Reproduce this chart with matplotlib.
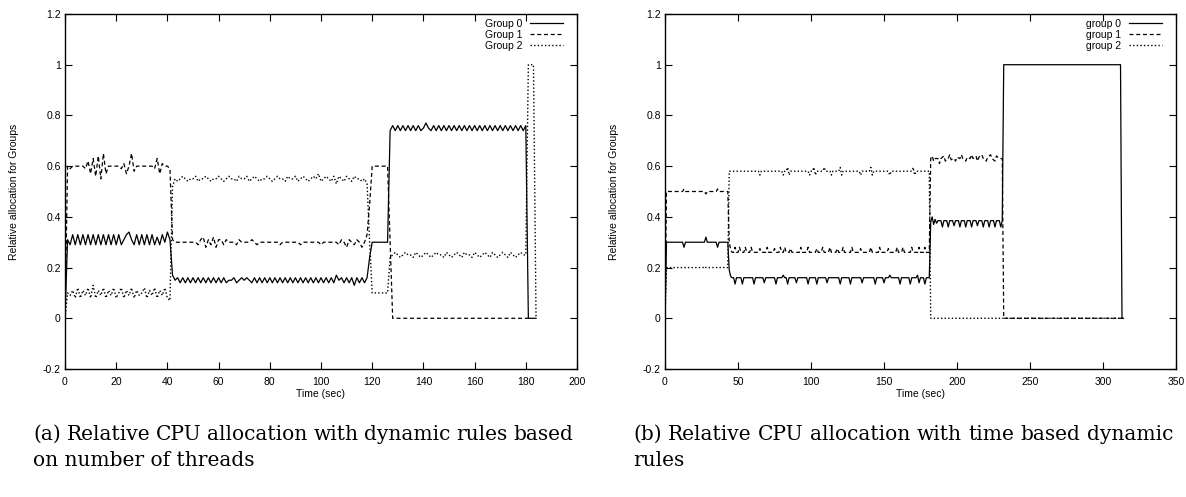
import matplotlib
matplotlib.use('Agg')
import matplotlib.pyplot as plt
import numpy as np

# --- data: (a) dynamic rules based on number of threads, one sample per second
g0_a = [
    0.00, 0.31, 0.29, 0.33, 0.29, 0.33, 0.29, 0.33, 0.29, 0.33,
    0.29, 0.33, 0.29, 0.33, 0.29, 0.33, 0.29, 0.33, 0.29, 0.33,
    0.29, 0.33, 0.29, 0.31, 0.33, 0.34, 0.31, 0.29, 0.33, 0.29,
    0.33, 0.29, 0.33, 0.29, 0.33, 0.29, 0.32, 0.29, 0.33, 0.30,
    0.34, 0.31, 0.17, 0.15, 0.16, 0.14, 0.16, 0.14, 0.16, 0.14,
    0.16, 0.14, 0.16, 0.14, 0.16, 0.14, 0.16, 0.14, 0.16, 0.14,
    0.16, 0.14, 0.16, 0.14, 0.15, 0.15, 0.16, 0.14, 0.15, 0.16,
    0.15, 0.16, 0.15, 0.14, 0.16, 0.14, 0.16, 0.14, 0.16, 0.14,
    0.16, 0.14, 0.16, 0.14, 0.16, 0.14, 0.16, 0.14, 0.16, 0.14,
    0.16, 0.14, 0.16, 0.14, 0.16, 0.14, 0.16, 0.14, 0.16, 0.14,
    0.16, 0.14, 0.16, 0.14, 0.16, 0.14, 0.17, 0.15, 0.16, 0.14,
    0.16, 0.14, 0.16, 0.13, 0.16, 0.14, 0.16, 0.14, 0.16, 0.24,
    0.30, 0.30, 0.30, 0.30, 0.30, 0.30, 0.30, 0.74, 0.76, 0.74,
    0.76, 0.74, 0.76, 0.74, 0.76, 0.74, 0.76, 0.74, 0.76, 0.74,
    0.75, 0.77, 0.75, 0.74, 0.76, 0.74, 0.76, 0.74, 0.76, 0.74,
    0.76, 0.74, 0.76, 0.74, 0.76, 0.74, 0.76, 0.74, 0.76, 0.74,
    0.76, 0.74, 0.76, 0.74, 0.76, 0.74, 0.76, 0.74, 0.76, 0.74,
    0.76, 0.74, 0.76, 0.74, 0.76, 0.74, 0.76, 0.74, 0.76, 0.74,
    0.76, 0.00, 0.00, 0.00, 0.00,
]
g1_a = [
    0.00, 0.60, 0.59, 0.60, 0.60, 0.60, 0.60, 0.60, 0.59, 0.62,
    0.57, 0.63, 0.56, 0.64, 0.55, 0.65, 0.57, 0.60, 0.60, 0.60,
    0.60, 0.60, 0.59, 0.61, 0.57, 0.60, 0.65, 0.58, 0.60, 0.60,
    0.60, 0.60, 0.60, 0.60, 0.60, 0.59, 0.63, 0.57, 0.61, 0.60,
    0.60, 0.59, 0.31, 0.30, 0.30, 0.30, 0.30, 0.30, 0.30, 0.30,
    0.30, 0.30, 0.29, 0.31, 0.32, 0.28, 0.31, 0.29, 0.32, 0.28,
    0.31, 0.31, 0.29, 0.31, 0.30, 0.30, 0.30, 0.29, 0.31, 0.30,
    0.30, 0.30, 0.30, 0.31, 0.30, 0.29, 0.30, 0.30, 0.30, 0.30,
    0.30, 0.30, 0.30, 0.30, 0.29, 0.30, 0.30, 0.30, 0.30, 0.30,
    0.30, 0.30, 0.29, 0.30, 0.30, 0.30, 0.30, 0.30, 0.30, 0.30,
    0.29, 0.30, 0.30, 0.30, 0.30, 0.30, 0.30, 0.29, 0.31, 0.30,
    0.28, 0.31, 0.30, 0.29, 0.31, 0.30, 0.28, 0.30, 0.33, 0.45,
    0.60, 0.60, 0.60, 0.60, 0.60, 0.60, 0.60, 0.30, 0.00, 0.00,
    0.00, 0.00, 0.00, 0.00, 0.00, 0.00, 0.00, 0.00, 0.00, 0.00,
    0.00, 0.00, 0.00, 0.00, 0.00, 0.00, 0.00, 0.00, 0.00, 0.00,
    0.00, 0.00, 0.00, 0.00, 0.00, 0.00, 0.00, 0.00, 0.00, 0.00,
    0.00, 0.00, 0.00, 0.00, 0.00, 0.00, 0.00, 0.00, 0.00, 0.00,
    0.00, 0.00, 0.00, 0.00, 0.00, 0.00, 0.00, 0.00, 0.00, 0.00,
    0.00, 0.00,
]
g2_a = [
    0.00, 0.10, 0.09, 0.11, 0.08, 0.12, 0.08, 0.11, 0.09, 0.12,
    0.08, 0.13, 0.08, 0.11, 0.09, 0.12, 0.08, 0.11, 0.09, 0.12,
    0.08, 0.10, 0.12, 0.08, 0.11, 0.09, 0.12, 0.08, 0.11, 0.09,
    0.10, 0.12, 0.08, 0.11, 0.09, 0.12, 0.08, 0.11, 0.09, 0.12,
    0.08, 0.07, 0.52, 0.55, 0.54, 0.55, 0.56, 0.55, 0.54, 0.55,
    0.55, 0.56, 0.54, 0.55, 0.55, 0.56, 0.55, 0.54, 0.55, 0.55,
    0.56, 0.55, 0.54, 0.55, 0.56, 0.55, 0.55, 0.54, 0.56, 0.55,
    0.55, 0.56, 0.54, 0.55, 0.56, 0.55, 0.54, 0.55, 0.55, 0.56,
    0.55, 0.54, 0.55, 0.56, 0.55, 0.55, 0.54, 0.56, 0.55, 0.55,
    0.56, 0.54, 0.55, 0.56, 0.55, 0.54, 0.55, 0.56, 0.55, 0.57,
    0.54, 0.55, 0.56, 0.55, 0.54, 0.56, 0.53, 0.56, 0.55, 0.54,
    0.56, 0.55, 0.54, 0.56, 0.55, 0.55, 0.54, 0.55, 0.53, 0.30,
    0.10, 0.10, 0.10, 0.10, 0.10, 0.10, 0.10, 0.24, 0.25, 0.26,
    0.25, 0.24, 0.25, 0.26, 0.25, 0.25, 0.24, 0.26, 0.25, 0.24,
    0.25, 0.26, 0.25, 0.24, 0.25, 0.26, 0.25, 0.25, 0.24, 0.26,
    0.25, 0.24, 0.25, 0.26, 0.25, 0.24, 0.26, 0.25, 0.25, 0.24,
    0.26, 0.25, 0.24, 0.25, 0.26, 0.25, 0.24, 0.26, 0.25, 0.24,
    0.25, 0.26, 0.25, 0.24, 0.26, 0.25, 0.24, 0.25, 0.26, 0.25,
    0.25, 1.00, 1.00, 1.00, 0.00,
]

# --- data: (b) time based dynamic rules, (time, value) vertices
g0_b = [
    (0, 0.00), (1, 0.30), (12, 0.30), (13, 0.28), (14, 0.30), (27, 0.30), (28, 0.32),
    (29, 0.30), (35, 0.30), (36, 0.28), (37, 0.30), (43, 0.30), (44, 0.19), (45, 0.165),
    (46, 0.16), (47, 0.16), (48, 0.135), (49, 0.16), (52, 0.16), (53, 0.135), (54, 0.16),
    (60, 0.16), (61, 0.135), (62, 0.16), (67, 0.16), (68, 0.14), (69, 0.16),
    (75, 0.16), (76, 0.135), (77, 0.16), (80, 0.16), (81, 0.17), (82, 0.16),
    (83, 0.16), (84, 0.135), (85, 0.16), (89, 0.16), (90, 0.14), (91, 0.16),
    (97, 0.16), (98, 0.135), (99, 0.16), (103, 0.16), (104, 0.135), (105, 0.16),
    (110, 0.16), (111, 0.14), (112, 0.16), (119, 0.16), (120, 0.135), (121, 0.16),
    (126, 0.16), (127, 0.135), (128, 0.16), (134, 0.16), (135, 0.14), (136, 0.16),
    (143, 0.16), (144, 0.135), (145, 0.16), (149, 0.16), (150, 0.14), (151, 0.16),
    (153, 0.16), (154, 0.17), (155, 0.16), (160, 0.16), (161, 0.135), (162, 0.16),
    (167, 0.16), (168, 0.135), (169, 0.16), (172, 0.16), (173, 0.17), (174, 0.14),
    (175, 0.16), (177, 0.16), (178, 0.135), (179, 0.16), (181, 0.16),
    (182, 0.38), (183, 0.40), (184, 0.37), (185, 0.39), (186, 0.375), (187, 0.385),
    (189, 0.385), (190, 0.36), (191, 0.385), (193, 0.385), (194, 0.36), (195, 0.385),
    (197, 0.385), (198, 0.365), (199, 0.385), (201, 0.385), (202, 0.36), (203, 0.385),
    (205, 0.385), (206, 0.36), (207, 0.385), (209, 0.385), (210, 0.36), (211, 0.385),
    (213, 0.385), (214, 0.365), (215, 0.385), (217, 0.385), (218, 0.36), (219, 0.385),
    (221, 0.385), (222, 0.36), (223, 0.385), (225, 0.385), (226, 0.36), (227, 0.385),
    (229, 0.385), (230, 0.36), (231, 0.385), (232, 1.00), (312, 1.00), (313, 0.00),
    (314, 0.00),
]
g1_b = [
    (0, 0.00), (1, 0.50), (12, 0.50), (13, 0.51), (14, 0.50), (27, 0.50), (28, 0.49),
    (29, 0.50), (35, 0.50), (36, 0.51), (37, 0.50), (43, 0.50), (44, 0.30), (45, 0.27),
    (46, 0.26), (47, 0.26), (48, 0.28), (49, 0.26), (50, 0.26), (51, 0.28), (52, 0.26),
    (54, 0.26), (55, 0.28), (56, 0.26), (58, 0.26), (59, 0.28), (60, 0.26),
    (64, 0.26), (65, 0.275), (66, 0.26), (69, 0.26), (70, 0.28), (71, 0.26),
    (74, 0.26), (75, 0.275), (76, 0.26), (78, 0.26), (79, 0.28), (80, 0.26),
    (81, 0.26), (82, 0.28), (83, 0.26), (85, 0.26), (86, 0.275), (87, 0.26),
    (92, 0.26), (93, 0.28), (94, 0.26), (97, 0.26), (98, 0.28), (99, 0.26),
    (103, 0.26), (104, 0.275), (105, 0.26), (107, 0.26), (108, 0.28), (109, 0.26),
    (112, 0.26), (113, 0.28), (114, 0.26), (117, 0.26), (118, 0.275), (119, 0.26),
    (121, 0.26), (122, 0.28), (123, 0.26), (127, 0.26), (128, 0.28), (129, 0.26),
    (133, 0.26), (134, 0.275), (135, 0.26), (140, 0.26), (141, 0.28), (142, 0.26),
    (146, 0.26), (147, 0.28), (148, 0.26), (152, 0.26), (153, 0.275), (154, 0.26),
    (158, 0.26), (159, 0.28), (160, 0.26), (162, 0.26), (163, 0.28), (164, 0.26),
    (168, 0.26), (169, 0.28), (170, 0.26), (173, 0.26), (174, 0.28), (175, 0.26),
    (177, 0.26), (178, 0.28), (179, 0.26), (181, 0.26),
    (182, 0.63), (183, 0.64), (184, 0.62), (185, 0.63), (187, 0.63), (188, 0.61),
    (189, 0.63), (191, 0.64), (192, 0.62), (194, 0.63), (195, 0.645), (196, 0.625),
    (198, 0.63), (199, 0.62), (200, 0.635), (202, 0.63), (203, 0.645), (204, 0.63),
    (206, 0.62), (207, 0.635), (209, 0.63), (210, 0.645), (211, 0.63), (213, 0.64),
    (214, 0.62), (215, 0.635), (217, 0.645), (218, 0.63), (220, 0.62), (221, 0.635),
    (223, 0.645), (224, 0.63), (226, 0.62), (227, 0.64), (229, 0.63), (231, 0.63),
    (232, 0.00), (314, 0.00),
]
g2_b = [
    (0, 0.00), (1, 0.20), (26, 0.20), (27, 0.205), (28, 0.20), (43, 0.20), (44, 0.58),
    (64, 0.58), (65, 0.565), (66, 0.58), (80, 0.58), (81, 0.565), (82, 0.58),
    (83, 0.58), (84, 0.595), (85, 0.565), (86, 0.58), (98, 0.58), (99, 0.565),
    (100, 0.58), (101, 0.58), (102, 0.595), (103, 0.565), (104, 0.58),
    (108, 0.58), (109, 0.595), (110, 0.58), (113, 0.58), (114, 0.565), (115, 0.58),
    (119, 0.58), (120, 0.595), (121, 0.565), (122, 0.58), (133, 0.58), (134, 0.565),
    (135, 0.58), (140, 0.58), (141, 0.595), (142, 0.565), (143, 0.58),
    (153, 0.58), (154, 0.565), (155, 0.58), (169, 0.58), (170, 0.595), (171, 0.565),
    (172, 0.58), (181, 0.58), (182, 0.00), (314, 0.00),
]

labels_a = ['Group 0', 'Group 1', 'Group 2']
labels_b = ['group 0', 'group 1', 'group 2']
xticks_a = [0, 20, 40, 60, 80, 100, 120, 140, 160, 180, 200]
xticks_b = [0, 50, 100, 150, 200, 250, 300, 350]
yticks = [-0.2, 0, 0.2, 0.4, 0.6, 0.8, 1, 1.2]
ytick_labels = ['-0.2', '0', '0.2', '0.4', '0.6', '0.8', '1', '1.2']
caption_a = ['(a) Relative CPU allocation with dynamic rules based', 'on number of threads']
caption_b = ['(b) Relative CPU allocation with time based dynamic', 'rules']

W, H = 1186, 497
fig = plt.figure(figsize=(W / 100, H / 100), dpi=100)
sans = 'Liberation Sans'
serif = 'DejaVu Serif'

styles = [dict(ls='-', lw=0.9), dict(ls=(0, (3.2, 2.2)), lw=0.9), dict(ls=(0, (1, 1.6)), lw=1.0)]


def make_axes(l, t, r, b):
    return fig.add_axes([l / W, 1 - b / H, (r - l) / W, (b - t) / H])


def style_axes(ax, xmax, xticks, labels):
    ax.set_xlim(0, xmax)
    ax.set_ylim(-0.2, 1.2)
    ax.set_xticks(xticks)
    ax.set_xticklabels([str(x) for x in xticks], fontfamily=sans, fontsize=7.5)
    ax.set_yticks(yticks)
    ax.set_yticklabels(ytick_labels, fontfamily=sans, fontsize=7.5)
    ax.tick_params(direction='in', top=True, right=True, length=5, width=0.8, pad=3)
    ax.tick_params(axis='x', pad=6)
    for s in ax.spines.values():
        s.set_linewidth(1.0)
    ax.set_xlabel('Time (sec)', fontfamily=sans, fontsize=7.5, labelpad=1)
    ax.set_ylabel('Relative allocation for Groups', fontfamily=sans, fontsize=7.5, labelpad=17)
    # legend: handle ends ~14 px left of the right spine, first row ~10 px below top
    bw = ax.get_position().width * W
    bh = ax.get_position().height * H
    leg = ax.legend(labels, loc='upper right', bbox_to_anchor=(1 - 14 / bw, 1 - 5 / bh),
                    frameon=False, markerfirst=False,
                    prop=dict(family=sans, size=7.5), handlelength=3.2, handletextpad=0.7,
                    labelspacing=0.1, borderaxespad=0, borderpad=0)
    for txt in leg.get_texts():
        txt.set_ha('right')


ax_a = make_axes(65, 14, 577, 369)
for vals, st in zip([g0_a, g1_a, g2_a], styles):
    ax_a.plot(np.arange(len(vals)), vals, color='black', **st)
style_axes(ax_a, 200, xticks_a, labels_a)

ax_b = make_axes(665, 14, 1176, 369)
for pts, st in zip([g0_b, g1_b, g2_b], styles):
    t, v = zip(*pts)
    ax_b.plot(t, v, color='black', **st)
style_axes(ax_b, 350, xticks_b, labels_b)


# captions: first line justified to the column width, second left aligned
def caption(lines, x0, x1, y0, dy, size):
    words = lines[0].split()
    items = [fig.text(x0 / W, 1 - y0 / H, w, fontfamily=serif, fontsize=size, va='baseline')
             for w in words]
    fig.canvas.draw()
    r = fig.canvas.get_renderer()
    widths = [it.get_window_extent(r).width for it in items]
    gap = (x1 - x0 - sum(widths)) / (len(words) - 1)
    x = x0
    for it, wd in zip(items, widths):
        it.set_x(x / W)
        x += wd + gap
    fig.text(x0 / W, 1 - (y0 + dy) / H, lines[1], fontfamily=serif, fontsize=size, va='baseline')


caption(caption_a, 33, 573, 440, 26, 14.5)
caption(caption_b, 633, 1173, 440, 26, 14.5)

fig.savefig('out.png', dpi=100)
